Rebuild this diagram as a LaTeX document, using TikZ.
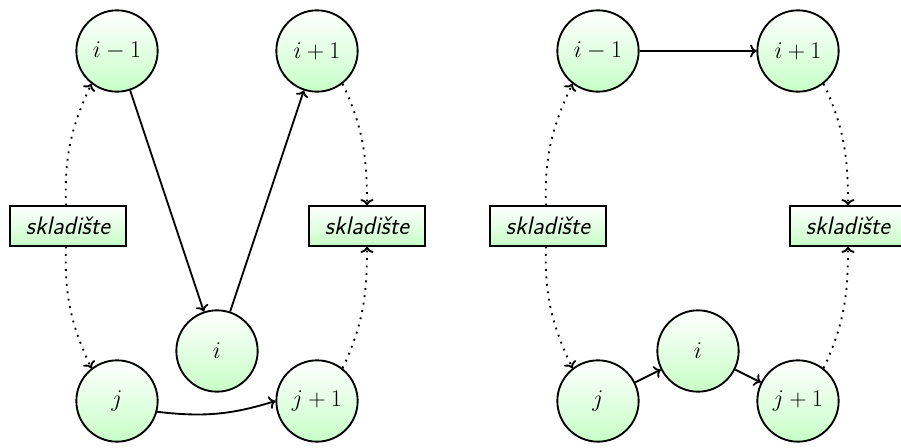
\RequirePackage{fix-cm}
\documentclass[tikz,border=0pt]{standalone}
\usetikzlibrary{arrows.meta}
\tikzset{
  vertex/.style={circle, draw, line width=1.4pt, minimum size=61pt, inner sep=0pt,
    top color=white, bottom color=green!22, font=\fontsize{18}{21}\selectfont},
  store/.style={rectangle, draw, line width=1.4pt, minimum width=87pt, minimum height=29.5pt,
    inner sep=2pt, top color=white, bottom color=green!22,
    font=\fontsize{19}{23}\selectfont\sffamily\itshape},
  flow/.style={->, line width=1.4pt},
  link/.style={->, line width=1.4pt, dash pattern=on 1.4pt off 4.2pt},
}
\begin{document}
\begin{tikzpicture}[x=0.75pt, y=-0.75pt]
  \useasboundingbox (0,0) rectangle (901,447);

  % first arrangement
  \node[vertex] (a1) at (117,51) {$i-1$};
  \node[vertex] (b1) at (317,51) {$i+1$};
  \node[vertex] (c1) at (217,351) {$i$};
  \node[vertex] (d1) at (117,401) {$j$};
  \node[vertex] (e1) at (317,401) {$j+1$};
  \node[store] (s1) at (68,226) {skladište};
  \node[store] (t1) at (367,226) {skladište};

  \draw[flow] (a1) -- (c1);
  \draw[flow] (c1) -- (b1);
  \draw[flow] (d1.-15) to[bend right=12] (e1.west);
  \draw[link] (s1.north -| 66,0) to[out=92, in=-115] (a1.-128);
  \draw[link] (s1.south -| 66,0) to[out=-92, in=115] (d1.128);
  \draw[link] (b1.-52) to[out=-65, in=90] (t1.north);
  \draw[link] (e1.52) to[out=65, in=-90] (t1.south);

  % second arrangement
  \node[vertex] (a2) at (598,51) {$i-1$};
  \node[vertex] (b2) at (798,51) {$i+1$};
  \node[vertex] (c2) at (698,351) {$i$};
  \node[vertex] (d2) at (598,401) {$j$};
  \node[vertex] (e2) at (798,401) {$j+1$};
  \node[store] (s2) at (548,226) {skladište};
  \node[store] (t2) at (848,226) {skladište};

  \draw[flow] (a2) -- (b2);
  \draw[flow] (d2) -- (c2);
  \draw[flow] (c2) -- (e2);
  \draw[link] (s2.north -| 546,0) to[out=92, in=-115] (a2.-128);
  \draw[link] (s2.south -| 546,0) to[out=-92, in=115] (d2.128);
  \draw[link] (b2.-52) to[out=-65, in=90] (t2.north);
  \draw[link] (e2.52) to[out=65, in=-90] (t2.south);
\end{tikzpicture}
\end{document}
